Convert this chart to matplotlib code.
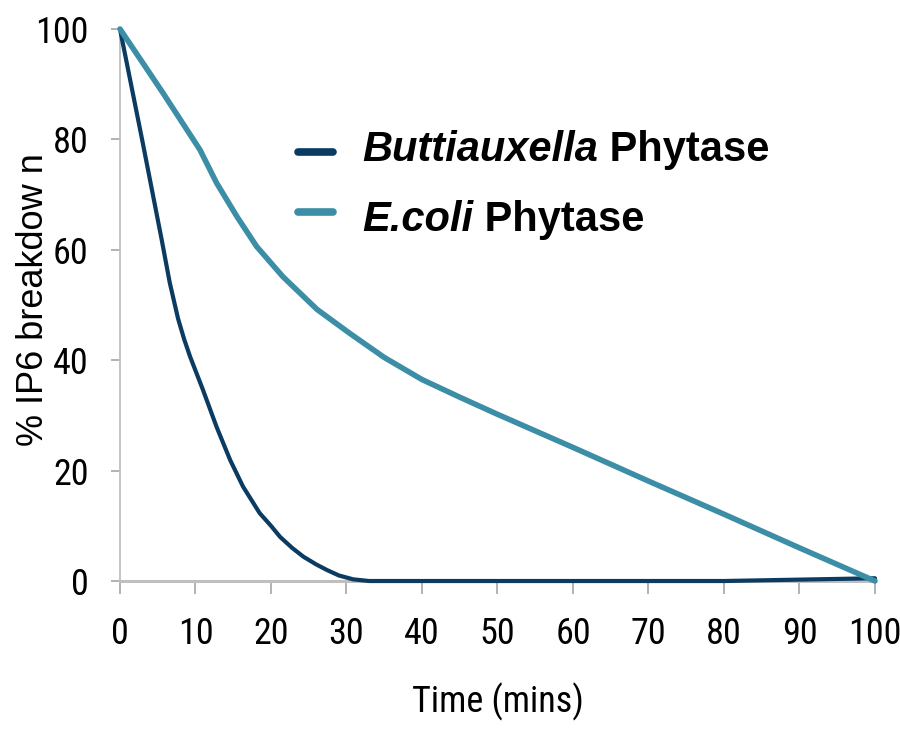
import matplotlib
matplotlib.use("Agg")
import matplotlib.pyplot as plt
from matplotlib import font_manager
from matplotlib.font_manager import FontProperties

# ---- data ----
butt_x = [0, 3, 5.5, 6.6, 7.7, 8.5, 9.3, 11.0, 12.8, 14.6, 16.3, 18.5, 20.0, 21.2, 22.8, 24.3, 26.0, 27.4, 29.0, 30.9, 33, 40, 50, 60, 70, 80, 90, 100]
butt_y = [100, 79.5, 62, 54, 47.5, 43.8, 40.6, 34.6, 27.9, 21.9, 17.1, 12.3, 10.0, 8.0, 6.0, 4.4, 3.0, 2.0, 1.0, 0.3, 0, 0, 0, 0, 0, 0, 0.25, 0.5]
ecoli_x = [0, 5.7, 10.6, 12.8, 15.5, 18.1, 21.6, 26.1, 30.5, 35, 40, 45, 50, 60, 70, 80, 90, 100]
ecoli_y = [100, 88.4, 78.1, 72.1, 66.0, 60.6, 55.1, 49.2, 44.8, 40.5, 36.5, 33.3, 30.2, 24.2, 18.1, 12.1, 6.0, 0]
series_names = ["Buttiauxella", "E.coli"]
series_suffix = " Phytase"
x_ticks = [0, 10, 20, 30, 40, 50, 60, 70, 80, 90, 100]
y_ticks = [0, 20, 40, 60, 80, 100]
x_label = "Time (mins)"
y_label = "% IP6 breakdow n"

dark = "#0b3b60"
teal = "#3b8ea6"
grey = "#bfbfbf"

# find a condensed sans font if one is installed
prefs = ["Liberation Sans Narrow", "Arial Narrow", "Roboto Condensed", "Open Sans Condensed",
         "Noto Sans", "DejaVu Sans", "Open Sans", "Roboto"]
cands = []
for f in font_manager.fontManager.ttflist:
    nm = f.name
    st = str(f.stretch).lower()
    fn = f.fname.lower()
    is_cond = ("narrow" in nm.lower() or "condensed" in nm.lower() or "condensed" in st
               or "narrow" in fn or "condensed" in fn
               or (isinstance(f.stretch, int) and f.stretch < 500))
    bad = any(w in fn for w in ["semi", "extra", "light", "bold", "medium", "thin", "black", "mono", "italic"])
    if is_cond and f.style == "normal" and not bad and "serif" not in fn.replace("sans", ""):
        rank = len(prefs)
        for i, p in enumerate(prefs):
            if nm.startswith(p):
                rank = i
                break
        cands.append((rank, f.fname))
cands.sort()
tick_fs = 26
if cands:
    def fp(size):
        return FontProperties(fname=cands[0][1], size=size)
else:
    def fp(size):
        return FontProperties(family=["Liberation Sans", "DejaVu Sans"], size=size * 0.85)

sans = ["Liberation Sans", "DejaVu Sans"]

fig = plt.figure(figsize=(9, 7.3), dpi=100)
ax = fig.add_axes([0.1333, 0.2041, 0.8389, 0.7562])

ax.plot(butt_x, butt_y, color=dark, lw=3.0, clip_on=False, zorder=4,
        solid_capstyle="round", solid_joinstyle="round")
ax.plot(ecoli_x, ecoli_y, color=teal, lw=4.0, clip_on=False, zorder=5,
        solid_capstyle="round", solid_joinstyle="round")

ax.set_xlim(0, 100)
ax.set_ylim(0, 100)
ax.set_xticks(x_ticks)
ax.set_yticks(y_ticks)
for s in ["top", "right"]:
    ax.spines[s].set_visible(False)
ax.spines["left"].set_color(grey)
ax.spines["left"].set_linewidth(1.3)
ax.spines["bottom"].set_color(grey)
ax.spines["bottom"].set_linewidth(2.2)
ax.tick_params(axis="y", direction="out", length=6.5, width=1.2, color="#a6a6a6", pad=16)
ax.tick_params(axis="x", direction="out", length=9.5, width=1.2, color="#a6a6a6", pad=16)
for lab in ax.get_xticklabels() + ax.get_yticklabels():
    lab.set_fontproperties(fp(tick_fs))
    lab.set_color("black")

ax.set_xlabel(x_label, fontproperties=fp(tick_fs), va="center")
ax.xaxis.set_label_coords(0.5, -0.218)
ax.set_ylabel(y_label, family=sans, fontsize=26, va="center")
ax.yaxis.set_label_coords(-0.115, 0.509)

# ---- legend (manual) ----
def px2ax(px, py):
    return ((px - 120) / 755.0, (581 - py) / 552.0)

leg = [(dark, 152, 161), (teal, 212, 231)]
for (col, ly, by), name in zip(leg, series_names):
    x0, y0 = px2ax(298, ly)
    x1, _ = px2ax(333, ly)
    ax.plot([x0, x1], [y0, y0], transform=ax.transAxes, color=col, lw=5.5,
            solid_capstyle="round", clip_on=False, zorder=6)
    tx, ty = px2ax(362, by)
    t = ax.text(tx, ty, name, transform=ax.transAxes, family=sans, fontsize=30,
                fontweight="bold", style="italic", ha="left", va="baseline")
    ax.annotate(series_suffix, xy=(1, 0), xycoords=t, xytext=(0, 0), textcoords="offset points",
                family=sans, fontsize=30, fontweight="bold", ha="left", va="bottom")

fig.savefig("out.png", dpi=100)
